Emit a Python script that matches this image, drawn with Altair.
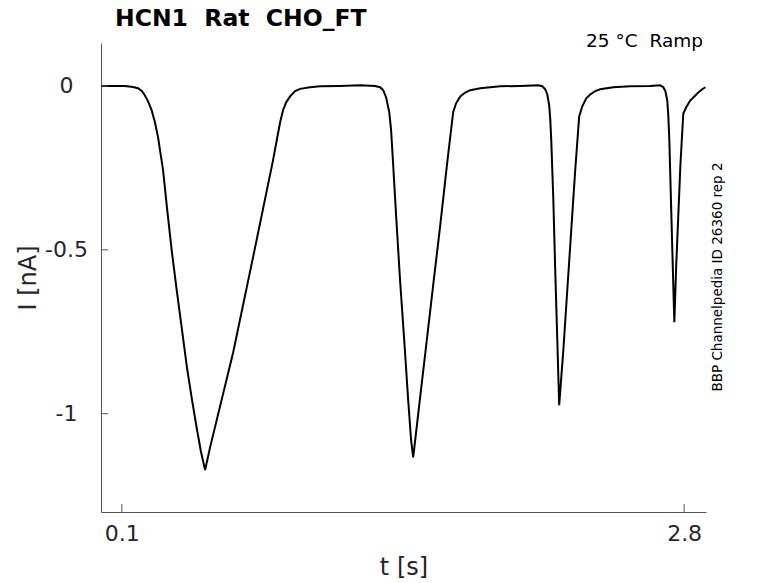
import altair as alt
import pandas as pd

# Trace (time in s, current in nA)
T = [0.000, 0.067, 0.115, 0.154, 0.178, 0.197, 0.211, 0.226, 0.243, 0.259, 0.274, 0.288, 0.298,
     0.317, 0.341, 0.365, 0.389, 0.413, 0.437, 0.461, 0.480, 0.500, 0.524, 0.634, 0.730, 0.826, 0.860,
     0.874, 0.889, 0.908, 0.932, 0.956, 1.004, 1.052, 1.148, 1.244, 1.316,
     1.340, 1.355, 1.369, 1.384, 1.393, 1.403, 1.417, 1.436, 1.456, 1.475, 1.489, 1.499, 1.513,
     1.532, 1.556, 1.595, 1.629, 1.662, 1.691, 1.705, 1.725, 1.749, 1.773, 1.821, 1.869, 1.917,
     2.013, 2.099,
     2.119, 2.133, 2.143, 2.152, 2.157, 2.162, 2.172, 2.181, 2.191, 2.200, 2.220, 2.239, 2.258,
     2.277, 2.296, 2.311, 2.330, 2.349, 2.373, 2.397, 2.460, 2.541, 2.637, 2.685,
     2.700, 2.710, 2.719, 2.724, 2.729, 2.738, 2.748, 2.753, 2.762, 2.772, 2.782, 2.796, 2.810,
     2.830, 2.849, 2.868, 2.887, 2.902]
I = [0.000, 0.000, 0.000, -0.003, -0.007, -0.016, -0.029, -0.047, -0.074, -0.111, -0.157, -0.215, -0.257,
     -0.373, -0.510, -0.630, -0.745, -0.860, -0.958, -1.049, -1.116, -1.172, -1.102, -0.815, -0.523, -0.227, -0.111,
     -0.074, -0.050, -0.032, -0.016, -0.009, -0.004, -0.001, 0.000, 0.002, 0.000,
     -0.004, -0.013, -0.035, -0.080, -0.135, -0.242, -0.395, -0.593, -0.776, -0.959, -1.081, -1.133, -1.057,
     -0.952, -0.821, -0.608, -0.425, -0.236, -0.080, -0.053, -0.032, -0.020, -0.013, -0.007, -0.004, -0.001,
     0.000, 0.002,
     -0.001, -0.010, -0.026, -0.059, -0.099, -0.166, -0.349, -0.562, -0.776, -0.974, -0.806, -0.622, -0.440,
     -0.257, -0.093, -0.062, -0.038, -0.026, -0.016, -0.010, -0.004, -0.001, 0.000, 0.002,
     -0.004, -0.016, -0.044, -0.090, -0.166, -0.379, -0.608, -0.721, -0.547, -0.395, -0.242, -0.084, -0.065,
     -0.044, -0.032, -0.020, -0.010, -0.004]

X_TICKS = [0.1, 2.8]
Y_TICKS = [0, -0.5, -1]
X_DOMAIN = [0, 2.905]
Y_DOMAIN = [-1.3, 0.131]

TITLE = "HCN1\u00a0\u00a0Rat\u00a0\u00a0CHO_FT"
SUBTITLE = "25 °C\u00a0\u00a0Ramp"
SIDE = "BBP Channelpedia ID 26360 rep 2"

W, H = 605, 469
FONT = "DejaVu Sans"
AX = "#555555"
TXT = "#262626"

df = pd.DataFrame({"t": T, "i": I})

xscale = alt.Scale(domain=X_DOMAIN, nice=False, zero=False)
yscale = alt.Scale(domain=Y_DOMAIN, nice=False, zero=False)

line = alt.Chart(df).mark_line(color="black", strokeWidth=2, clip=True).encode(
    x=alt.X("t:Q", scale=xscale, title="t [s]",
            axis=alt.Axis(values=X_TICKS, labelExpr="'' + datum.value", ticks=False, grid=False,
                          domainColor=AX, domainWidth=1, labelFont=FONT, labelFontSize=22,
                          labelColor=TXT, labelPadding=11, labelFlush=False,
                          titleFont=FONT, titleFontSize=24, titleFontWeight="normal",
                          titleColor=TXT, titleY=62, titleX=W / 2, titleBaseline="alphabetic")),
    y=alt.Y("i:Q", scale=yscale, title="I [nA]",
            axis=alt.Axis(values=Y_TICKS, labelExpr="'' + datum.value", ticks=False, grid=False,
                          domainColor=AX, domainWidth=1, labelFont=FONT, labelFontSize=22,
                          labelColor=TXT, labelPadding=35, labelAlign="center",
                          labelBaseline="middle", labelFlush=False,
                          titleFont=FONT, titleFontSize=24, titleFontWeight="normal",
                          titleColor=TXT, titleX=-73, titleY=H / 2, titleAngle=270,
                          titleAlign="center", titleBaseline="middle")),
)

yticks = alt.Chart(pd.DataFrame({"v": Y_TICKS})).mark_rule(color=AX, strokeWidth=1).encode(
    y=alt.Y("v:Q", scale=yscale), x=alt.value(0), x2=alt.value(7))
xticks = alt.Chart(pd.DataFrame({"v": X_TICKS})).mark_rule(color=AX, strokeWidth=1).encode(
    x=alt.X("v:Q", scale=xscale), y=alt.value(H), y2=alt.value(H - 8))

title = alt.Chart(pd.DataFrame({"s": [TITLE]})).mark_text(
    font=FONT, fontSize=23.5, fontWeight="bold", color="black", align="left",
    baseline="alphabetic").encode(text="s:N", x=alt.value(14), y=alt.value(-17))
sub = alt.Chart(pd.DataFrame({"s": [SUBTITLE]})).mark_text(
    font=FONT, fontSize=18.5, color="black", align="right",
    baseline="alphabetic").encode(text="s:N", x=alt.value(602), y=alt.value(4))
side = alt.Chart(pd.DataFrame({"s": [SIDE]})).mark_text(
    font=FONT, fontSize=13.5, color="black", align="center", baseline="middle",
    angle=270).encode(text="s:N", x=alt.value(617), y=alt.value(234))

chart = alt.layer(line, yticks, xticks, title, sub, side).properties(
    width=W, height=H,
    autosize=alt.AutoSizeParams(type="none"),
    padding={"left": 93, "top": 35, "right": 64, "bottom": 70},
).configure(background="white").configure_view(stroke=None)

chart.save("out.html", embed_options={"renderer": "svg", "actions": False})
